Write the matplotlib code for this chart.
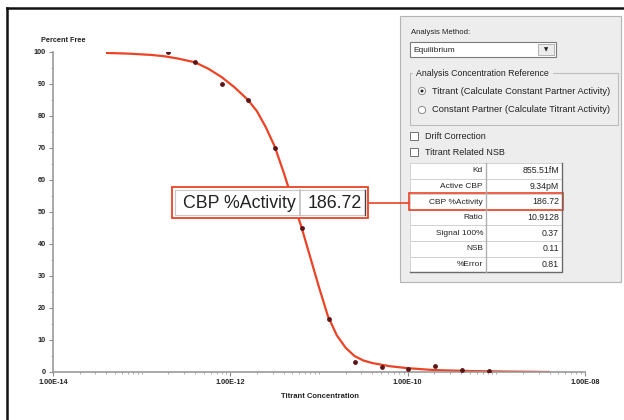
import matplotlib.pyplot as plt
from matplotlib.patches import Rectangle, Circle
from matplotlib.ticker import LogLocator, NullFormatter, MultipleLocator

plt.rcParams['font.family'] = ['Liberation Sans', 'DejaVu Sans']

# measured points (2-fold titration series)
titrant_conc = [2.0e-13, 4.0e-13, 8.0e-13, 1.6e-12, 3.2e-12, 6.4e-12, 1.28e-11,
                2.56e-11, 5.12e-11, 1.02e-10, 2.05e-10, 4.1e-10, 8.2e-10]
percent_free = [100, 96.9, 90, 85, 70, 45, 16.6, 3.1, 1.6, 0.9, 1.8, 0.6, 0.3]

# fitted curve (log10 of concentration)
fit_log_conc = [-13.39, -13.15, -12.9, -12.75, -12.6, -12.4, -12.25, -12.1, -11.95,
                -11.8, -11.7, -11.6, -11.5, -11.4, -11.3, -11.2, -11.1, -11.0,
                -10.9, -10.8, -10.7, -10.6, -10.5, -10.4, -10.2, -10.0, -9.7,
                -9.3, -8.9, -8.41]
fit_percent = [99.7, 99.5, 99.1, 98.7, 98.0, 96.8, 94.8, 92.2, 88.9,
               85.0, 81.5, 76.5, 70.5, 62.5, 53.8, 45.5, 36.0, 26.5,
               17.5, 11.5, 7.6, 5.0, 3.6, 2.8, 1.8, 1.2, 0.6,
               0.3, 0.15, 0.0]

xtick_vals = [1e-14, 1e-12, 1e-10, 1e-08]
xtick_labels = ['1.00E-14', '1.00E-12', '1.00E-10', '1.00E-08']

table_labels = ['Kd', 'Active CBP', 'CBP %Activity', 'Ratio', 'Signal 100%', 'NSB', '%Error']
table_values = ['855.51fM', '9.34pM', '186.72', '10.9128', '0.37', '0.11', '0.81']

red = '#ec4326'
fig = plt.figure(figsize=(6.24, 4.2), dpi=100)

# --- main plot ---
ax = fig.add_axes([53 / 624, 1 - 372 / 420, 532 / 624, 320 / 420])
fit_conc = [10 ** v for v in fit_log_conc]
ax.plot(fit_conc, fit_percent, color=red, lw=1.6, zorder=2)
ax.scatter(titrant_conc, percent_free, s=6, color='#5a1414', zorder=3)
ax.set_xscale('log')
ax.set_xlim(1e-14, 1e-08)
ax.set_ylim(0, 100)
for s in ['top', 'right']:
    ax.spines[s].set_visible(False)
for s in ['left', 'bottom']:
    ax.spines[s].set_color('#9a9a9a')
    ax.spines[s].set_linewidth(1.2)
ax.set_xticks(xtick_vals)
ax.set_xticklabels(xtick_labels)
ax.xaxis.set_minor_locator(LogLocator(base=10, subs=range(1, 10), numticks=20))
ax.xaxis.set_minor_formatter(NullFormatter())
ax.yaxis.set_major_locator(MultipleLocator(10))
ax.yaxis.set_minor_locator(MultipleLocator(5))
ax.tick_params(which='major', length=3, width=0.8, color='#8a8a8a', labelsize=5.2, pad=2,
               labelcolor='#222222')
ax.tick_params(which='minor', length=1.5, width=0.6, color='#9a9a9a')
for lab in ax.get_xticklabels() + ax.get_yticklabels():
    lab.set_fontweight('bold')
ax.set_xlabel('Titrant Concentration', fontsize=5.5, fontweight='bold', color='#222222')
ax.xaxis.set_label_coords(0.502, -0.066)
ax.text(-0.023, 1.0375, 'Percent Free', transform=ax.transAxes, fontsize=5.3,
        fontweight='bold', color='#222222', va='center', ha='left')
ax.patch.set_alpha(0)

# --- overlay in pixel coordinates for the dialog widgets ---
ov = fig.add_axes([0, 0, 1, 1])
ov.set_xlim(0, 624)
ov.set_ylim(420, 0)
ov.axis('off')
ov.patch.set_alpha(0)

# outer frame
ov.plot([7, 7], [8, 421], color='#111111', lw=1.8)
ov.plot([7, 625], [8, 8], color='#111111', lw=1.8)

# dialog panel
ov.add_patch(Rectangle((400, 16), 221, 266, fc='#ededed', ec='#b4b4b4', lw=0.8))
txt = dict(color='#222222', va='center')
ov.text(411, 33, 'Analysis Method:', fontsize=5.6, **txt)
ov.add_patch(Rectangle((410, 42), 146, 15, fc='white', ec='#7a7a7a', lw=0.8))
ov.text(413, 50, 'Equilibrium', fontsize=6, **txt)
ov.add_patch(Rectangle((538, 44), 16, 11, fc='#ececec', ec='#a8a8a8', lw=0.6))
ov.text(546, 50, '\u25bc', fontsize=4, ha='center', va='center', color='#222222',
        family='DejaVu Sans')

ov.add_patch(Rectangle((410, 73), 208, 52, fc='none', ec='#bdbdbd', lw=0.8))
ov.text(416, 73, 'Analysis Concentration Reference', backgroundcolor='#ededed',
        fontsize=6.3, **txt)
ov.add_patch(Circle((422, 91), 3.6, fc='white', ec='#8a8a8a', lw=0.7))
ov.add_patch(Circle((422, 91), 1.5, fc='#222222', ec='none'))
ov.text(432, 91, 'Titrant (Calculate Constant Partner Activity)', fontsize=6.7, **txt)
ov.add_patch(Circle((422, 110), 3.6, fc='white', ec='#8a8a8a', lw=0.7))
ov.text(432, 110, 'Constant Partner (Calculate Titrant Activity)', fontsize=6.7, **txt)

ov.add_patch(Rectangle((410, 132), 8, 8, fc='white', ec='#707070', lw=0.7))
ov.text(425, 136.5, 'Drift Correction', fontsize=6.5, **txt)
ov.add_patch(Rectangle((410, 148), 8, 8, fc='white', ec='#707070', lw=0.7))
ov.text(425, 152.5, 'Titrant Related NSB', fontsize=6.5, **txt)

# result table
row_h = 15.6
top = 163
for i, (lab, val) in enumerate(zip(table_labels, table_values)):
    y0 = top + i * row_h
    ov.add_patch(Rectangle((410, y0), 76, row_h, fc='white', ec='#d2d2d2', lw=0.7))
    ov.add_patch(Rectangle((486, y0), 76, row_h, fc='white', ec='#d2d2d2', lw=0.7))
    ov.text(483, y0 + row_h / 2, lab, ha='right', fontsize=6, **txt)
    ov.text(559, y0 + row_h / 2, val, ha='right', fontsize=6.3, **txt)
bottom = top + 7 * row_h
ov.plot([562, 562, 410], [top, bottom, bottom], color='#6a6a6a', lw=1.0)
ov.plot([486, 486], [top, bottom], color='#b0b0b0', lw=1.0)

# highlight and callout
ov.add_patch(Rectangle((409, 193), 154, 17, fc='none', ec=red, lw=1.2))
ov.plot([368, 409], [203, 203], color=red, lw=1.2)
ov.add_patch(Rectangle((172, 187), 196, 31, fc='white', ec=red, lw=1.3, zorder=4))
ov.add_patch(Rectangle((175, 190), 190, 25, fc='none', ec='#c8c8c8', lw=0.8, zorder=4))
ov.plot([300, 300], [190, 215], color='#c0c0c0', lw=1.2, zorder=5)
ov.plot([365, 365], [190, 215], color='#444444', lw=1.0, zorder=5)
ov.text(296, 203, 'CBP %Activity', fontsize=12.8, ha='right', va='center',
        color='#222222', zorder=6)
ov.text(362, 203, '186.72', fontsize=12.8, ha='right', va='center',
        color='#222222', zorder=6)

fig.savefig('out.png', dpi=100)
